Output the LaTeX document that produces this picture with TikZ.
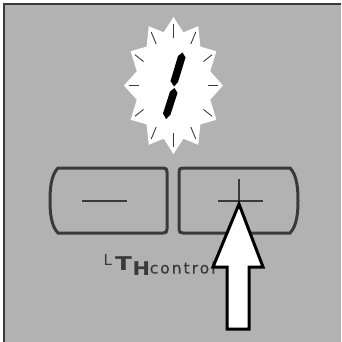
\documentclass[tikz,border=0pt]{standalone}
\usepackage{fontspec}
\newfontfamily\panelfont{DejaVu Sans}
\newfontfamily\panelfontsp{DejaVu Sans}[LetterSpace=13,FakeBold=0.7]
\usetikzlibrary{calc}
\definecolor{panel}{HTML}{B2B2B2}
\definecolor{ink}{HTML}{3A3A3A}

\begin{document}
\begin{tikzpicture}[x=1pt,y=-1pt,
  btn/.style={draw=ink,line width=3pt},
  sign/.style={draw=ink,line width=2.6pt},
  lbl/.style={text=ink,inner sep=0pt,anchor=base west}]
\useasboundingbox (0,0) rectangle (341,342);
% panel
\fill[panel] (3.5,4.5) rectangle (341,342);
\draw[ink,line width=2pt] (3.5,342) -- (3.5,4.5) -- (341,4.5);
% flashing display
\fill[white] (173.5,17) \foreach \i in {1,...,23}{
  -- ({173.5+(isodd(\i)?38:49.5)*sin(15*\i)},{85.5-(isodd(\i)?55:68.5)*cos(15*\i)})} -- cycle;
\foreach \a in {0,30,...,330}
  \draw[ink,line width=0.9pt] ({173.5+0.7*49.5*sin(\a)},{85.5-0.7*68.5*cos(\a)})
    -- ({173.5+0.9*49.5*sin(\a)},{85.5-0.9*68.5*cos(\a)});
\fill[black] (182.5,52.5) -- (185.5,57.5) -- (178,82) -- (174,86.5) -- (170.5,81) -- (178,56) -- cycle;
\fill[black] (174.5,88) -- (177.5,93) -- (170.5,114.5) -- (166,119) -- (163,113.5) -- (170,91.5) -- cycle;
% buttons
\draw[btn] (58,233) .. controls (51,226) and (50,212) .. (50,200.5)
  .. controls (50,189) and (51,175) .. (58,168) -- (163,168)
  .. controls (166,168) and (167,169) .. (167,172) -- (167,229)
  .. controls (167,232) and (166,233) .. (163,233) -- cycle;
\draw[btn] (290,233) .. controls (297,226) and (298,212) .. (298,200.5)
  .. controls (298,189) and (297,175) .. (290,168) -- (183,168)
  .. controls (180,168) and (179,169) .. (179,172) -- (179,229)
  .. controls (179,232) and (180,233) .. (183,233) -- cycle;
\draw[sign] (82,201) -- (127,201);
\draw[sign] (218,201) -- (263,201);
\draw[sign] (239,179) -- (239,223);
% logo
\node[lbl,font=\panelfont\fontsize{15}{15}\selectfont] (logoL) at (103.5,265) {L};
\node[lbl,font=\panelfont\bfseries\fontsize{19}{19}\selectfont] (logoT) at (115,270) {\scalebox{1.3}[1]{T}};
\node[lbl,font=\panelfont\bfseries\fontsize{19}{19}\selectfont] (logoH) at (132.5,275) {\scalebox{1.1}[1]{H}};
\node[lbl,font=\panelfontsp\fontsize{15.5}{15.5}\selectfont] (logoctl) at (149.5,273.5) {control};
% push arrow
\draw[fill=white,line width=3pt,miter limit=10] (239,204) -- (263,267) -- (249,267) -- (249,329)
  -- (227,329) -- (227,267) -- (213,267) -- cycle;
\end{tikzpicture}
\end{document}
